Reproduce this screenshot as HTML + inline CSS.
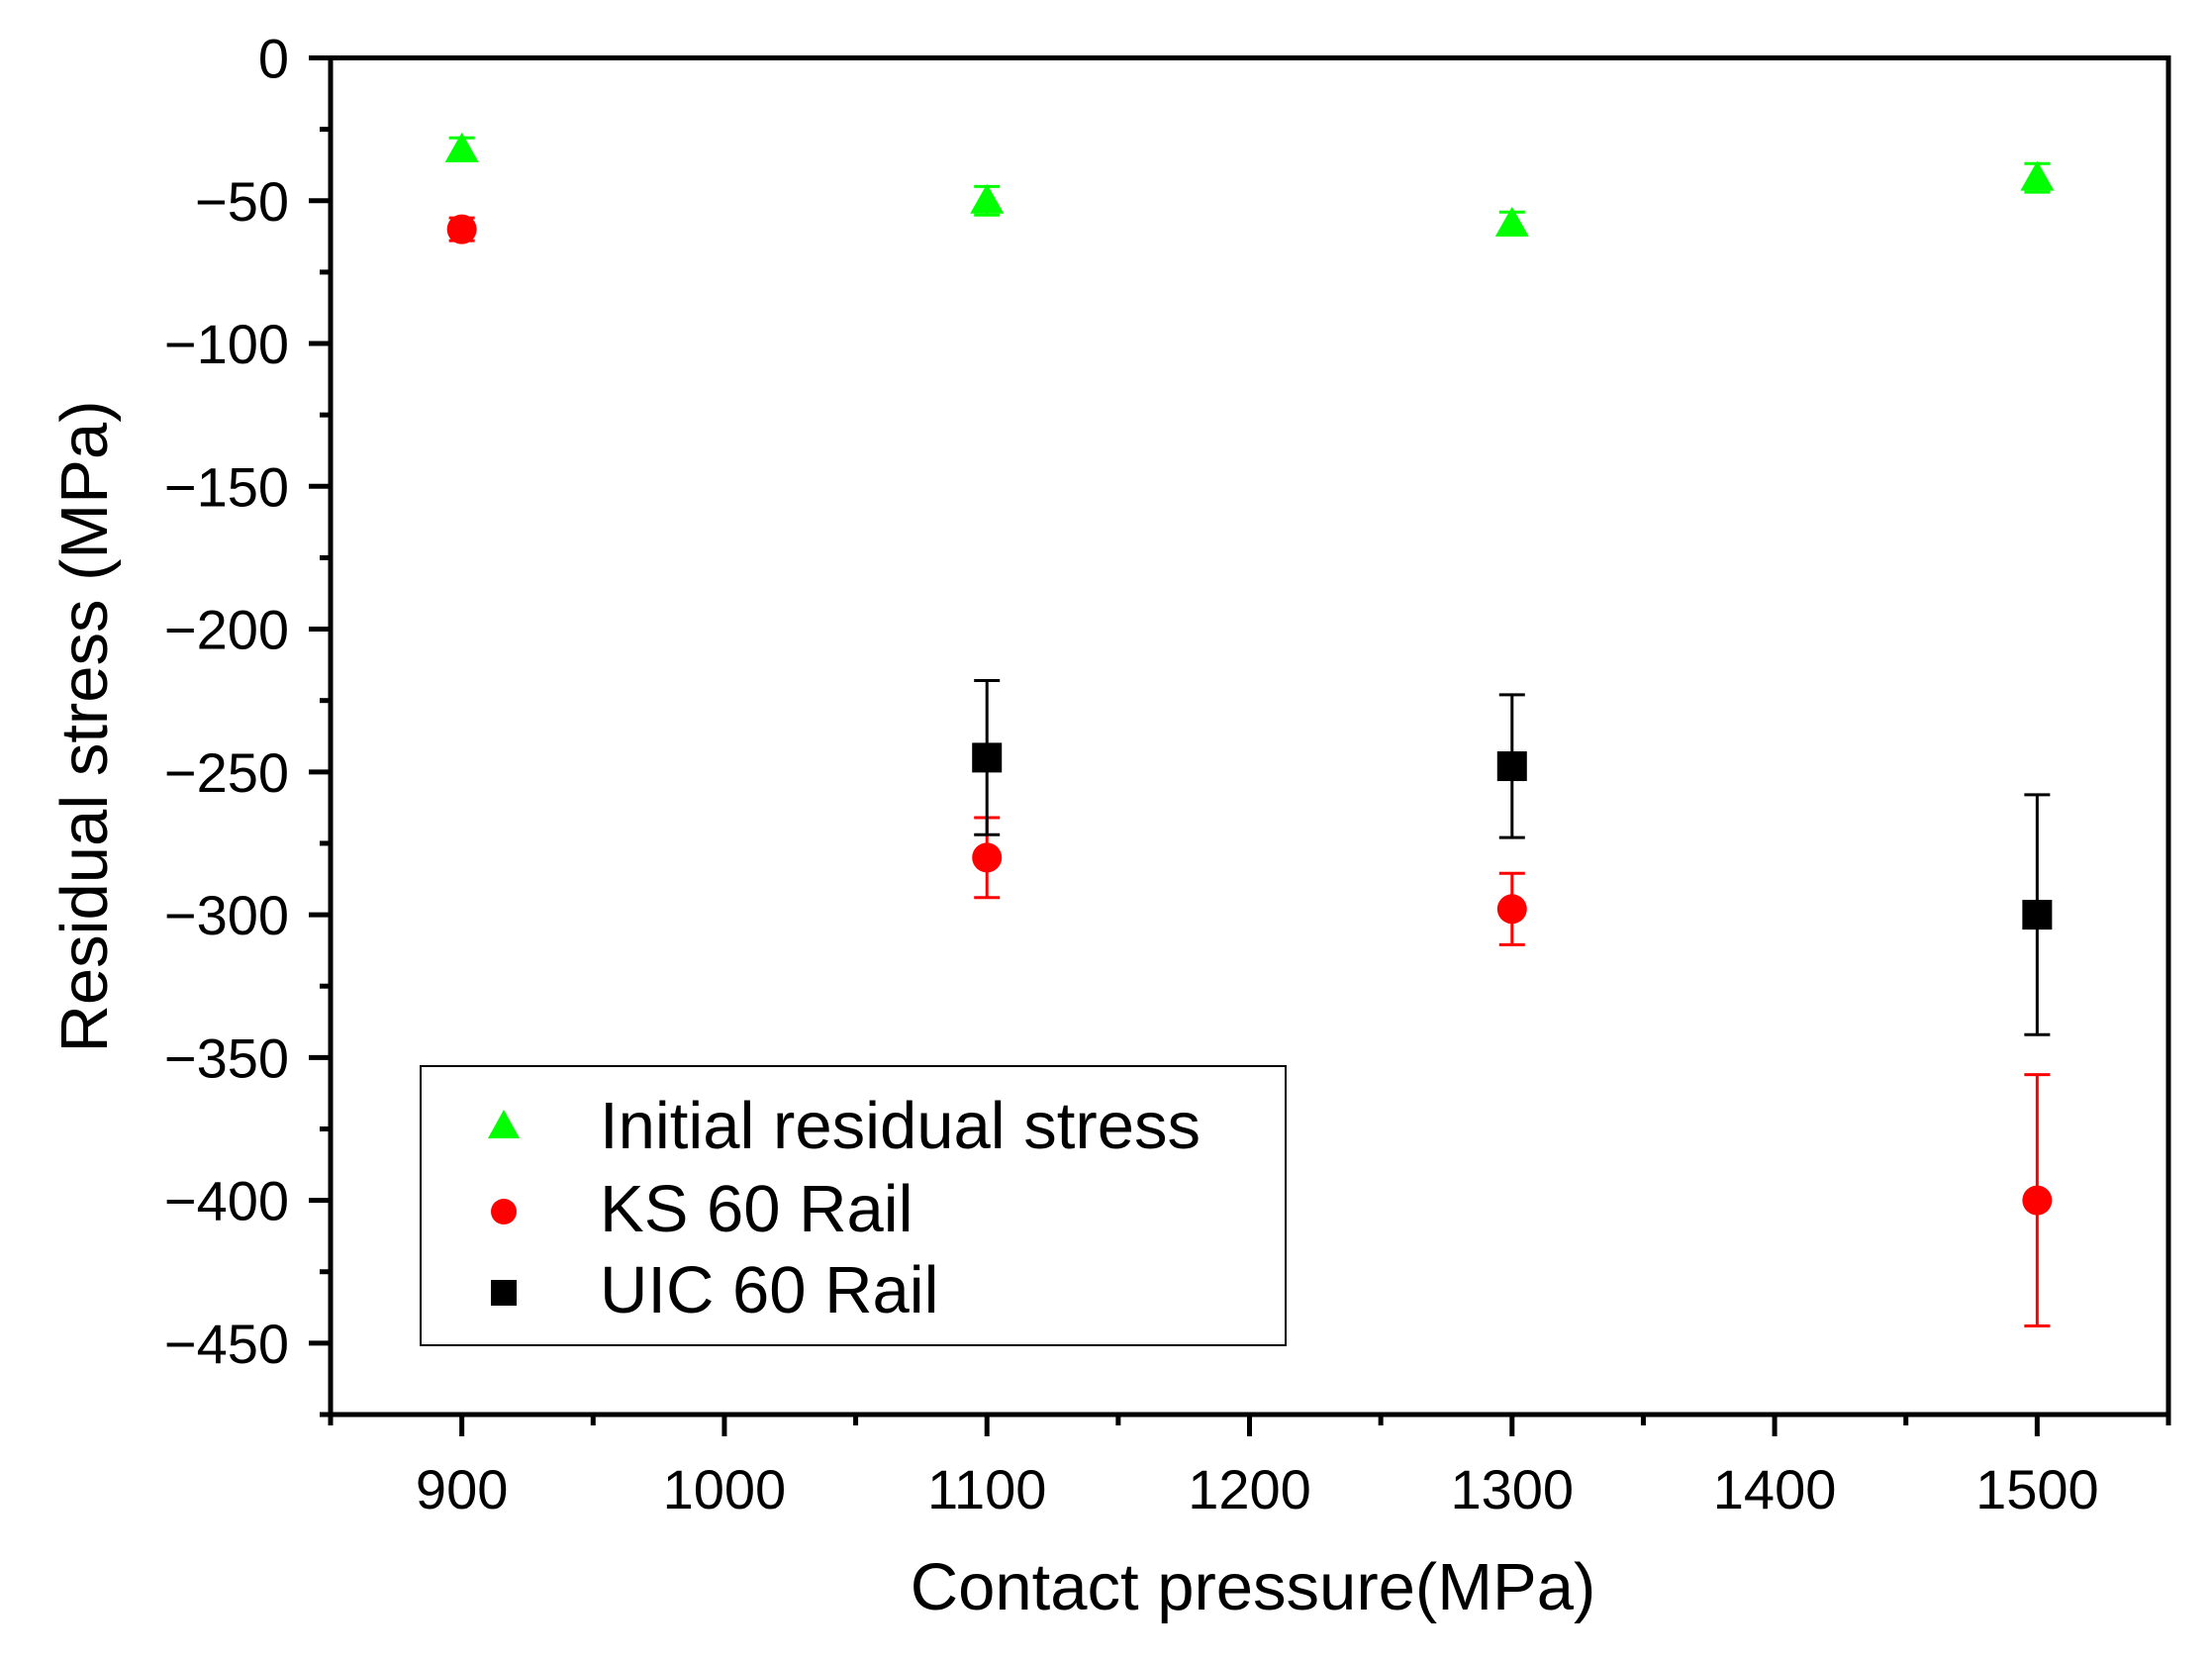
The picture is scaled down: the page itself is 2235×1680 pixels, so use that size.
<!DOCTYPE html>
<html><head><meta charset="utf-8"><style>
html,body{margin:0;padding:0;background:#fff;}
svg{display:block;font-family:"Liberation Sans",Arial,sans-serif;}
</style></head><body>
<svg id="chart" width="2235" height="1680" viewBox="0 0 2235 1680" xmlns="http://www.w3.org/2000/svg">
<rect width="2235" height="1680" fill="#fff"/>
<g id="grid"></g>
<g id="marks"></g>
<text x="0" y="0" transform="translate(108,734) rotate(-90)" text-anchor="middle" font-size="67" fill="#000">Residual stress (MPa)</text>
<text x="1266" y="1626" text-anchor="middle" font-size="67" fill="#000">Contact pressure(MPa)</text>
<g>
<rect x="425" y="1077" width="874" height="282" fill="#fff" stroke="#000" stroke-width="2"/>
<polygon points="509,1121 493,1150 525,1150" fill="#00ff00"/>
<text x="606" y="1160" font-size="67">Initial residual stress</text>
<circle cx="509" cy="1224" r="13" fill="#ff0000"/>
<text x="606" y="1244" font-size="67">KS 60 Rail</text>
<rect x="496" y="1293" width="26" height="26" fill="#000"/>
<text x="606" y="1326" font-size="67">UIC 60 Rail</text>
</g>
</svg>
<script>
const xCats = [900, 1100, 1300, 1500];
const initialVals = [-32, -50, -58, -42];
const initialErr = [4, 5, 4, 5];
const ksX = [900, 1100, 1300, 1500];
const ksVals = [-60, -280, -298, -400];
const ksErr = [4, 14, 12.5, 44];
const uicX = [1100, 1300, 1500];
const uicVals = [-245, -248, -300];
const uicErr = [27, 25, 42];
const xTicks = [900, 1000, 1100, 1200, 1300, 1400, 1500];
const yTicks = [0, -50, -100, -150, -200, -250, -300, -350, -400, -450];

const L=334,R=2191,T=58.5,B=1429, X0=850,X1=1550,Y0=0,Y1=-475;
const xs=v=>L+(v-X0)/(X1-X0)*(R-L);
const ys=v=>T+(v-Y0)/(Y1-Y0)*(B-T);
const NS="http://www.w3.org/2000/svg";
const grid=document.getElementById('grid'), marks=document.getElementById('marks');
function mk(tag,attrs,parent){const e=document.createElementNS(NS,tag);for(const k in attrs)e.setAttribute(k,attrs[k]);parent.appendChild(e);return e;}

const frame=mk('rect',{x:L,y:T,width:R-L,height:B-T,fill:'none',stroke:'#000','stroke-width':5},grid);



for(let v=850;v<=1550;v+=50){
  const major=(v%100===0);
  const t=mk('line',{x1:xs(v),x2:xs(v),y1:B,y2:B+(major?22:11),stroke:'#000','stroke-width':5},grid);
  
  
}
xTicks.forEach(v=>{
  const t=mk('text',{x:xs(v),y:1524,'text-anchor':'middle','font-size':56},grid);
  t.textContent=v;
  
  
});
for(let v=0;v>=-475;v-=25){
  const major=(v%50===0);
  const t=mk('line',{x1:L,x2:L-(major?22:11),y1:ys(v),y2:ys(v),stroke:'#000','stroke-width':5},grid);
  
  
}
yTicks.forEach(v=>{
  const t=mk('text',{x:292,y:ys(v)+20,'text-anchor':'end','font-size':56},grid);
  t.textContent=v===0?'0':'\u2212'+Math.abs(v);
  
  
});

function errbar(x,v,e,color){
  const g=mk('g',{stroke:color,'stroke-width':3},marks);
  
  
  const cx=xs(x);
  mk('line',{x1:cx,x2:cx,y1:ys(v+e),y2:ys(v-e)},g);
  mk('line',{x1:cx-13,x2:cx+13,y1:ys(v+e),y2:ys(v+e)},g);
  mk('line',{x1:cx-13,x2:cx+13,y1:ys(v-e),y2:ys(v-e)},g);
}
xCats.forEach((x,i)=>{
  errbar(x,initialVals[i],initialErr[i],'#00ff00');
  const cx=xs(x),cy=ys(initialVals[i]);
  const p=mk('polygon',{points:`${cx},${cy-17} ${cx-17},${cy+13} ${cx+17},${cy+13}`,fill:'#00ff00'},marks);
  
  
});
ksX.forEach((x,i)=>{
  errbar(x,ksVals[i],ksErr[i],'#ff0000');
  const c=mk('circle',{cx:xs(x),cy:ys(ksVals[i]),r:15,fill:'#ff0000'},marks);
  
  
});
uicX.forEach((x,i)=>{
  errbar(x,uicVals[i],uicErr[i],'#000');
  const r=mk('rect',{x:xs(x)-15,y:ys(uicVals[i])-15,width:30,height:30,fill:'#000'},marks);
  
  
});
</script>
</body></html>
